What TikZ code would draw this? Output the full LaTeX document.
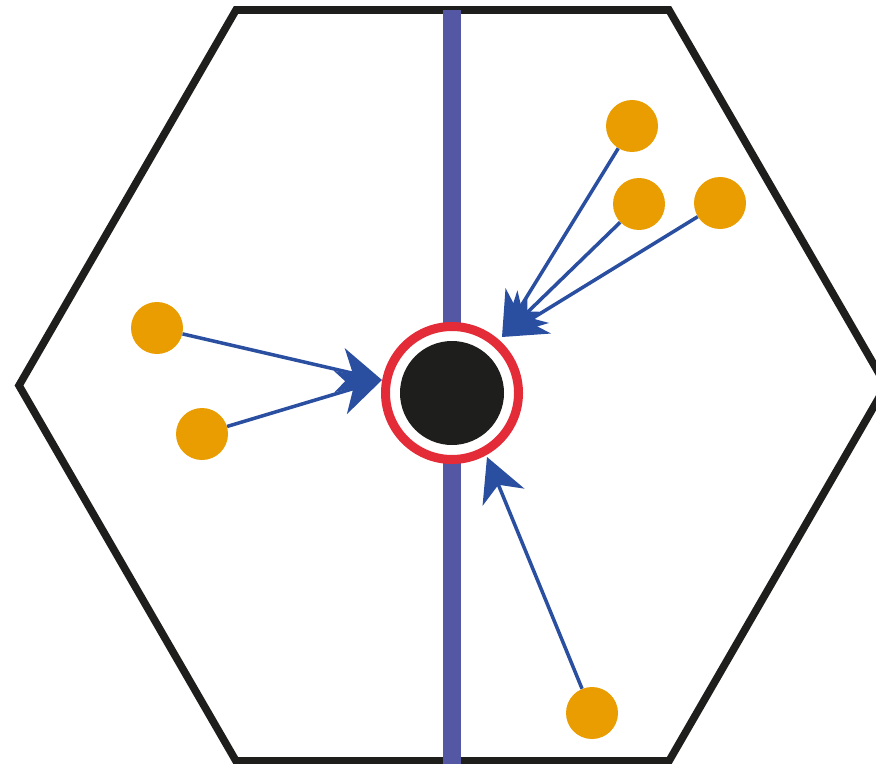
\documentclass[tikz,border=0pt]{standalone}
\usetikzlibrary{arrows.meta}
\definecolor{dotorange}{RGB}{233,157,0}
\definecolor{linkblue}{RGB}{42,79,160}
\definecolor{barblue}{RGB}{84,87,163}
\definecolor{ringred}{RGB}{228,43,56}
\definecolor{hexblack}{RGB}{30,30,28}
\begin{document}
\begin{tikzpicture}[x=0.03cm,y=-0.03cm,>={Stealth[length=1.3cm,width=1.35cm,inset=0.4cm]},
        dot/.style={circle, fill=dotorange, minimum size=1.56cm, inner sep=0pt},
        link/.style={->, draw=linkblue, fill=linkblue, line width=3pt}]
        \useasboundingbox (0,0) rectangle (876,764);
        \clip (0,0) rectangle (876,764);
        \draw[hexblack, line width=6.5pt] (236,10) -- (669,10) -- (886,385.5) -- (669,761) -- (236,761) -- (19,385.5) -- cycle;
        \draw[barblue, line width=0.54cm] (452,10) -- (452,764);

        \node (ring) at (452,393) [circle, fill=white, draw=ringred, line width=0.27cm, minimum size=3.99cm, inner sep=0pt] {};
        \node (core) at (452,393) [circle, fill=hexblack, minimum size=3.12cm, inner sep=0pt] {};

        \coordinate (tipL) at (382,380);
        \coordinate (tipR) at (502,337);
        \coordinate (tipB) at (487,457);

        \node (a) at (632,126) [dot] {};
        \node (b) at (639,204) [dot] {};
        \node (c) at (720,203) [dot] {};
        \node (d) at (157,328) [dot] {};
        \node (e) at (202,434) [dot] {};
        \node (f) at (592,713) [dot] {};

        \draw[link] (a) -- (tipR);
        \draw[link] (b) -- (tipR);
        \draw[link] (c) -- (tipR);
        \draw[link] (d) -- (tipL);
        \draw[link] (e) -- (tipL);
        \draw[link] (f) -- (tipB);
    \end{tikzpicture}
\end{document}
